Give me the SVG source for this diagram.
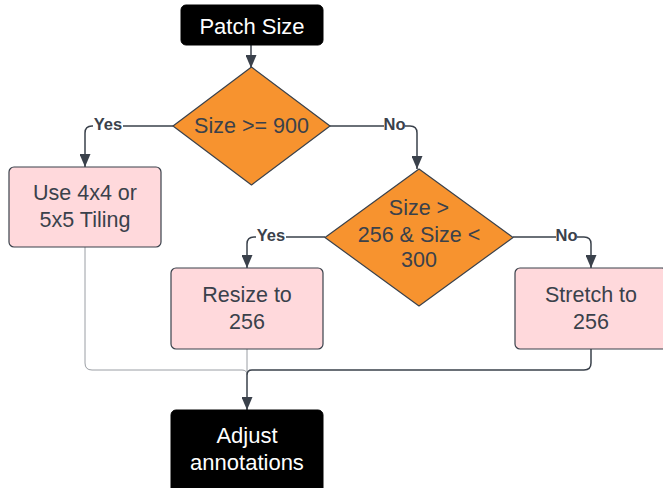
<svg xmlns="http://www.w3.org/2000/svg" width="663" height="488" viewBox="0 0 663 488">
<defs>
<marker id="arr" markerWidth="13" markerHeight="11" refX="13" refY="5.5" orient="auto" markerUnits="userSpaceOnUse" viewBox="0 0 13 11">
<path d="M0,0 L13,5.5 L0,11 Z" fill="#3a414b"/>
</marker>
<style>
.term{fill:#000;stroke:#000;}
.dec{fill:#f7932f;stroke:#3a414b;stroke-width:1.2;stroke-linejoin:round;}
.proc{fill:#ffd9dc;stroke:#3a414b;stroke-width:1.2;}
.t{font-family:"Liberation Sans",Arial,sans-serif;font-size:21.5px;fill:#3a414b;text-anchor:middle;}
.tw{font-family:"Liberation Sans",Arial,sans-serif;font-size:22px;fill:#fff;text-anchor:middle;}
.lbl{font-family:"Liberation Sans",Arial,sans-serif;font-size:16.5px;font-weight:bold;fill:#3a414b;text-anchor:middle;}
.c{fill:none;stroke:#3a414b;stroke-width:1.5;}
.cl{fill:none;stroke:#9a9ea4;stroke-width:1;}
</style>
</defs>
<g id="connectors">
<path class="c" d="M251,45 V68" marker-end="url(#arr)"/>
<path class="c" d="M173,126 H92 Q85,126 85,133 V167" marker-end="url(#arr)"/>
<path class="c" d="M330,126 H410 Q417,126 417,133 V169" marker-end="url(#arr)"/>
<path class="c" d="M325,237 H254 Q247,237 247,244 V268" marker-end="url(#arr)"/>
<path class="c" d="M513,237 H584 Q591,237 591,244 V268" marker-end="url(#arr)"/>
<path class="cl" d="M85,247 V363 Q85,370 92,370 H242 Q247,370 247,375"/>
<path class="cl" d="M247,349 V372"/>
<path class="c" d="M591,349 V363 Q591,370 584,370 H252 Q247,370 247,375 V410" marker-end="url(#arr)"/>
<rect x="93" y="117" width="30" height="17" fill="#fff"/>
<text class="lbl" x="108" y="130">Yes</text>
<rect x="384" y="117" width="21" height="17" fill="#fff"/>
<text class="lbl" x="394.5" y="130">No</text>
<rect x="256" y="228" width="30" height="17" fill="#fff"/>
<text class="lbl" x="271" y="241">Yes</text>
<rect x="556" y="228" width="21" height="17" fill="#fff"/>
<text class="lbl" x="566.5" y="241">No</text>
</g>
<g id="patch-size">
<rect class="term" x="181" y="5" width="142" height="40" rx="5"/>
<text class="tw" x="252" y="34">Patch Size</text>
</g>
<g id="decision-900">
<polygon class="dec" points="251.5,67 330,126 251.5,185 173,126"/>
<text class="t" x="251.5" y="133">Size &gt;= 900</text>
</g>
<g id="tiling">
<rect class="proc" x="9" y="167" width="152" height="80" rx="5"/>
<text class="t" x="85" y="200">Use 4x4 or</text>
<text class="t" x="85" y="227">5x5 Tiling</text>
</g>
<g id="decision-256">
<polygon class="dec" points="419,169 513,237.5 419,306 325,237.5"/>
<text class="t" x="419" y="215">Size &gt;</text>
<text class="t" x="419" y="242">256 &amp; Size &lt;</text>
<text class="t" x="419" y="267">300</text>
</g>
<g id="resize">
<rect class="proc" x="171" y="268" width="152" height="81" rx="5"/>
<text class="t" x="247" y="302">Resize to</text>
<text class="t" x="247" y="329">256</text>
</g>
<g id="stretch">
<rect class="proc" x="515" y="268" width="152" height="81" rx="5"/>
<text class="t" x="591" y="302">Stretch to</text>
<text class="t" x="591" y="329">256</text>
</g>
<g id="adjust">
<rect class="term" x="171" y="410" width="152" height="90" rx="5"/>
<text class="tw" x="247" y="443">Adjust</text>
<text class="tw" x="247" y="470">annotations</text>
</g>
</svg>
